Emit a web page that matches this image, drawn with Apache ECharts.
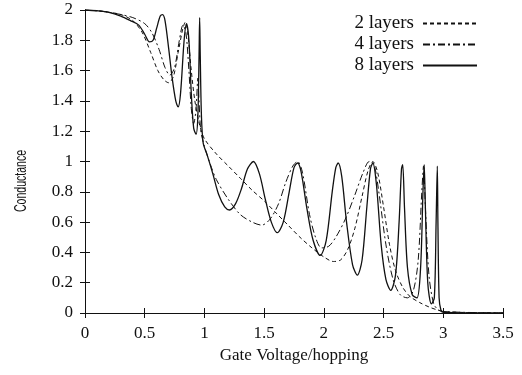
<!DOCTYPE html>
<html>
<head>
<meta charset="utf-8">
<script src="https://cdn.jsdelivr.net/npm/echarts@6/dist/echarts.min.js"></script>
<style>
  html, body { margin: 0; padding: 0; background: #fff; }
  #chart { width: 522px; height: 375px; }
</style>
</head>
<body>
<div id="chart"></div>
<script>
// values: [gate voltage, conductance]
const layers2 = [
  [0, 2.0], [0.1, 1.995], [0.2, 1.985], [0.3, 1.97], [0.4, 1.93], [0.48, 1.85],
  [0.55, 1.72], [0.61, 1.6], [0.66, 1.54], [0.7, 1.52], [0.74, 1.56], [0.78, 1.72],
  [0.82, 1.88], [0.84, 1.92], [0.86, 1.85], [0.89, 1.6], [0.92, 1.4], [0.96, 1.24],
  [1.0, 1.15], [1.1, 1.05], [1.2, 0.97], [1.3, 0.89], [1.4, 0.81], [1.5, 0.74],
  [1.6, 0.66], [1.7, 0.58], [1.8, 0.5], [1.9, 0.43], [2.0, 0.37], [2.08, 0.34],
  [2.14, 0.35], [2.2, 0.42], [2.26, 0.56], [2.32, 0.77], [2.37, 0.94], [2.41, 1.0],
  [2.45, 0.93], [2.5, 0.7], [2.55, 0.45], [2.6, 0.28], [2.66, 0.17], [2.72, 0.11],
  [2.8, 0.07], [2.88, 0.04], [2.95, 0.02], [3.0, 0.01], [3.2, 0.003], [3.5, 0]
];

const layers4 = [
  [0, 2.0], [0.1, 1.995], [0.2, 1.985], [0.3, 1.97], [0.4, 1.95], [0.5, 1.91],
  [0.56, 1.85], [0.62, 1.74], [0.67, 1.62], [0.71, 1.57], [0.75, 1.62], [0.79, 1.8],
  [0.82, 1.9], [0.845, 1.85], [0.87, 1.6], [0.89, 1.35], [0.91, 1.25], [0.93, 1.35],
  [0.945, 1.55], [0.955, 1.4], [0.97, 1.2], [1.0, 1.1], [1.05, 0.98], [1.1, 0.88],
  [1.2, 0.75], [1.3, 0.65], [1.4, 0.6], [1.48, 0.58], [1.55, 0.62], [1.62, 0.72],
  [1.68, 0.86], [1.74, 0.97], [1.78, 1.0], [1.82, 0.93], [1.88, 0.65], [1.93, 0.5],
  [1.98, 0.43], [2.04, 0.44], [2.1, 0.5], [2.18, 0.62], [2.26, 0.78], [2.33, 0.93],
  [2.38, 1.0], [2.42, 0.98], [2.46, 0.8], [2.52, 0.45], [2.58, 0.22], [2.64, 0.12],
  [2.7, 0.1], [2.75, 0.15], [2.79, 0.35], [2.82, 0.8], [2.835, 0.97], [2.85, 0.7],
  [2.88, 0.25], [2.92, 0.06], [2.96, 0.02], [3.0, 0.01], [3.3, 0.002], [3.5, 0]
];

const layers8 = [
  [0, 2.0], [0.1, 1.995], [0.2, 1.985], [0.3, 1.96], [0.38, 1.93], [0.45, 1.9],
  [0.5, 1.84], [0.54, 1.79], [0.57, 1.8], [0.6, 1.88], [0.63, 1.96], [0.65, 1.97],
  [0.67, 1.93], [0.7, 1.75], [0.73, 1.55], [0.76, 1.4], [0.78, 1.36], [0.8, 1.45],
  [0.83, 1.8], [0.85, 1.91], [0.87, 1.8], [0.89, 1.45], [0.91, 1.22], [0.93, 1.18],
  [0.945, 1.3], [0.955, 1.7], [0.96, 1.95], [0.965, 1.7], [0.975, 1.3], [0.99, 1.12],
  [1.02, 1.05], [1.07, 0.92], [1.12, 0.78], [1.17, 0.7], [1.21, 0.68], [1.26, 0.72],
  [1.31, 0.82], [1.36, 0.95], [1.41, 1.0], [1.46, 0.92], [1.51, 0.75], [1.56, 0.6],
  [1.61, 0.53], [1.66, 0.6], [1.71, 0.8], [1.75, 0.96], [1.78, 0.99], [1.81, 0.93],
  [1.86, 0.68], [1.91, 0.48], [1.97, 0.38], [2.02, 0.48], [2.07, 0.8], [2.1, 0.96],
  [2.12, 0.99], [2.15, 0.9], [2.19, 0.6], [2.24, 0.32], [2.28, 0.25], [2.32, 0.35],
  [2.36, 0.7], [2.39, 0.95], [2.41, 0.99], [2.44, 0.85], [2.48, 0.45], [2.52, 0.22],
  [2.56, 0.15], [2.6, 0.25], [2.63, 0.6], [2.65, 0.95], [2.66, 0.98], [2.675, 0.7],
  [2.7, 0.3], [2.74, 0.12], [2.78, 0.1], [2.81, 0.3], [2.83, 0.8], [2.84, 0.98],
  [2.85, 0.7], [2.87, 0.2], [2.9, 0.06], [2.925, 0.1], [2.94, 0.6], [2.95, 0.97],
  [2.955, 0.6], [2.965, 0.1], [2.98, 0.02], [3.0, 0.005], [3.2, 0], [3.5, 0]
];

const seriesNames = ["2 layers", "4 layers", "8 layers"];
const xTicks = {min: 0, max: 3.5, interval: 0.5};
const yTicks = {min: 0, max: 2, interval: 0.2};

const serif = "Liberation Serif";
const ink = "#111";

const chart = echarts.init(document.getElementById("chart"));

const frameAxis = {
  axisLine: {show: true, lineStyle: {color: ink, width: 1}},
  axisTick: {show: true, inside: true, length: 5, lineStyle: {color: ink}},
  splitLine: {show: false}
};

const option = {
  animation: false,
  grid: {left: 85, right: 19, top: 10, bottom: 62},
  legend: {
    orient: "vertical",
    right: 44,
    top: 14,
    align: "right",
    itemWidth: 54,
    itemHeight: 12,
    itemGap: 2,
    padding: 0,
    itemStyle: {opacity: 0},
    textStyle: {fontFamily: serif, fontSize: 19, color: ink, padding: [0, 4, 0, 0]},
    data: seriesNames
  },
  xAxis: [
    Object.assign({
      type: "value",
      min: xTicks.min, max: xTicks.max, interval: xTicks.interval,
      name: "Gate Voltage/hopping",
      nameLocation: "middle",
      nameGap: 34,
      nameTextStyle: {fontFamily: serif, fontSize: 17, color: ink},
      axisLabel: {fontFamily: serif, fontSize: 17, color: ink, margin: 12}
    }, frameAxis),
    Object.assign({
      type: "value", position: "top",
      min: xTicks.min, max: xTicks.max, interval: xTicks.interval,
      axisLabel: {show: false}
    }, frameAxis)
  ],
  yAxis: [
    Object.assign({
      type: "value",
      min: yTicks.min, max: yTicks.max, interval: yTicks.interval,
      axisLabel: {fontFamily: serif, fontSize: 17, color: ink, margin: 12}
    }, frameAxis),
    Object.assign({
      type: "value", position: "right",
      min: yTicks.min, max: yTicks.max, interval: yTicks.interval,
      axisLabel: {show: false}
    }, frameAxis)
  ],
  graphic: [{
    type: "text",
    x: 13,
    y: 212,
    rotation: Math.PI / 2,
    scaleX: 0.62,
    style: {
      text: "Conductance",
      font: "17px 'Liberation Sans', sans-serif",
      fill: ink
    }
  }],
  series: [
    {
      name: seriesNames[0], type: "line", data: layers2,
      showSymbol: false, symbol: "none", smooth: 0.3,
      lineStyle: {color: ink, width: 1, type: [4, 3]},
      itemStyle: {color: ink}
    },
    {
      name: seriesNames[1], type: "line", data: layers4,
      showSymbol: false, symbol: "none", smooth: 0.3,
      lineStyle: {color: ink, width: 1, type: [7, 3, 2, 3]},
      itemStyle: {color: ink}
    },
    {
      name: seriesNames[2], type: "line", data: layers8,
      showSymbol: false, symbol: "none", smooth: 0.3,
      lineStyle: {color: ink, width: 1.3},
      itemStyle: {color: ink}
    }
  ]
};

chart.setOption(option);
</script>
</body>
</html>
